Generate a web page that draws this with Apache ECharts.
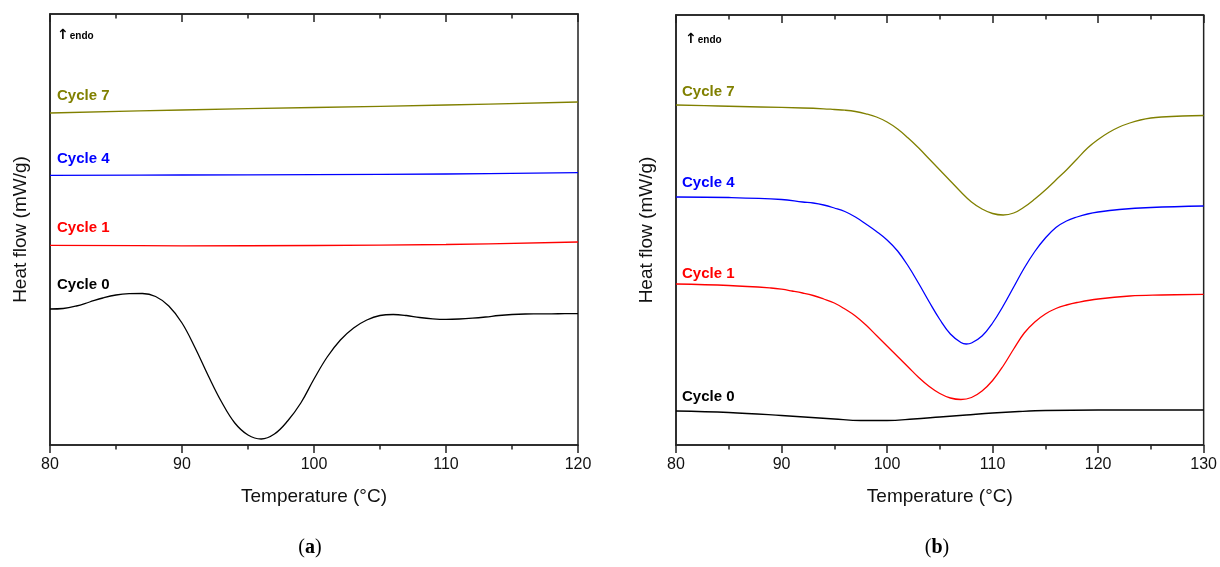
<!DOCTYPE html>
<html>
<head>
<meta charset="utf-8">
<script src="https://cdn.jsdelivr.net/npm/echarts@6/dist/echarts.min.js"></script>
<style>
html, body { margin: 0; padding: 0; background: #fff; }
#chart { width: 1220px; height: 567px; }
</style>
</head>
<body>
<div id="chart"></div>
<script>
// panel (a) - heat flow, arbitrary offset units
var tempA = [80, 90, 100, 110, 120];
var cycle7A = [332, 335, 337.5, 340, 343];
var cycle4A = [269.7, 270, 270.3, 271, 272.3];
var cycle1A = [199.7, 199.2, 199.5, 200.5, 203];
var tempA0 = [80, 81, 82, 83, 84, 85, 86, 87, 88, 89, 90, 91, 92, 93, 94, 95, 96, 97, 98, 99, 100,
  101, 102, 103, 104, 105, 106, 107, 108, 109, 110, 111, 112, 113, 114, 115, 116, 117, 118, 119, 120];
var cycle0A = [136, 136.5, 139, 143, 147, 150, 151.3, 151.5, 148.5, 139, 122, 97, 69, 43, 22, 10, 6, 11, 24, 42, 66,
  88, 105, 117, 125, 129.5, 130.5, 129.5, 127.5, 126.2, 125.7, 126, 126.8, 128, 129.5, 130.5, 131, 131.1, 131.2, 131.3, 131.3];

// panel (b)
var tempB7 = [80, 84, 88, 92, 94, 95, 96, 97, 98, 99, 100, 101, 102, 103, 104, 105, 106, 107, 108, 109, 110, 111, 112,
  113, 114, 115, 116, 117, 118, 119, 120, 121, 122, 123, 124, 125, 126, 128, 130];
var cycle7B = [340, 339, 338, 337, 336.2, 335.5, 334.8, 333.5, 331.2, 328, 323, 316, 307, 297, 286, 275, 264, 253, 243, 236, 231.5, 230, 232,
  238, 246, 255, 265, 275, 286, 297, 305.5, 312.5, 318, 322, 325, 327, 328, 329, 329.5];
var tempB4 = [80, 85, 90, 92, 93, 94, 95, 96, 97, 98, 99, 100, 101, 102, 103, 104, 105, 106, 107, 107.5, 108, 109, 110, 111,
  112, 113, 114, 115, 116, 117, 118, 119, 120, 122, 125, 130];
var cycle4B = [248, 247.5, 245.5, 243, 242, 240, 237, 233.5, 228, 221, 213.5, 205, 194, 179, 161.5, 143, 125.5, 111, 102.5, 101, 102, 109, 122, 139,
  158, 177, 193.5, 207, 217.5, 224, 228, 231, 233, 235.5, 237.5, 239];
var tempB1 = [80, 85, 89, 90, 91, 92, 93, 94, 95, 96, 97, 98, 99, 100, 101, 102, 103, 104, 105, 106, 107, 108, 109,
  110, 111, 112, 113, 114, 115, 116, 117, 118, 120, 123, 126, 130];
var cycle1B = [161, 159.5, 157, 155.8, 154, 152, 149.5, 146, 142, 136, 129, 120, 109.5, 99, 88.5, 78, 67.5, 58.5, 51.5, 47, 45.5, 47.5, 54,
  64.5, 79, 96, 112, 123, 131, 136.5, 140, 142.5, 146, 149, 150, 150.7];
var tempB0 = [80, 85, 90, 95, 97.5, 100, 102.5, 105, 107.5, 110, 112.5, 115, 120, 125, 130];
var cycle0B = [34, 32.5, 29.5, 26, 24.5, 24.5, 26, 28, 30, 32, 33.5, 34.5, 35, 35, 35];

var colors = { c0: '#000000', c1: '#ff0000', c4: '#0000ff', c7: '#808000' };
var sans = '"Liberation Sans", Arial, sans-serif';
var axisColor = '#222';

function pairs(t, v) {
  return t.map(function(x, i) { return [x, v[i]]; });
}

function bottomAxis(grid, max) {
  return {
    gridIndex: grid, type: 'value', min: 80, max: max, interval: 10,
    axisLine: { lineStyle: { color: axisColor, width: 1.5 } },
    axisTick: { length: 8, lineStyle: { color: axisColor, width: 1.5 } },
    minorTick: { show: true, splitNumber: 2, length: 4.5, lineStyle: { color: axisColor, width: 1.5 } },
    splitLine: { show: false },
    axisLabel: { fontSize: 16, color: '#111', margin: 12, fontFamily: sans },
    name: 'Temperature (°C)', nameLocation: 'middle', nameGap: 42,
    nameTextStyle: { fontSize: 19, color: '#111', fontFamily: sans }
  };
}
function topAxis(grid, max) {
  return {
    gridIndex: grid, type: 'value', position: 'top', min: 80, max: max, interval: 10,
    axisLine: { lineStyle: { color: axisColor, width: 1.5 } },
    axisTick: { inside: true, length: 8, lineStyle: { color: axisColor, width: 1.5 } },
    minorTick: { show: true, splitNumber: 2, length: 4.5, lineStyle: { color: axisColor, width: 1.5 } },
    splitLine: { show: false },
    axisLabel: { show: false }
  };
}
function leftAxis(grid, max) {
  return {
    gridIndex: grid, type: 'value', min: 0, max: max,
    axisLine: { show: true, lineStyle: { color: axisColor, width: 1.5 } },
    axisTick: { show: false }, axisLabel: { show: false }, splitLine: { show: false },
    name: 'Heat flow (mW/g)', nameLocation: 'middle', nameGap: 20,
    nameTextStyle: { fontSize: 19, color: '#111', fontFamily: sans }
  };
}
function line(xi, data, color) {
  return {
    type: 'line', xAxisIndex: xi, yAxisIndex: xi === 0 ? 0 : 1, data: data,
    smooth: 0.4, showSymbol: false, symbol: 'none',
    lineStyle: { color: color, width: 1.3 }, silent: true
  };
}
function label(x, y, text, color) {
  return { type: 'text', x: x, y: y, silent: true,
    style: { text: text, fill: color, font: 'bold 15px ' + sans, verticalAlign: 'middle' } };
}
function endo(x, y) {
  return { type: 'text', x: x, y: y, silent: true,
    style: { text: '{a|↑}{e|endo}', verticalAlign: 'middle', fill: '#000',
      rich: { a: { font: 'bold 14px "DejaVu Sans", sans-serif', fill: '#000' },
              e: { font: 'bold 10px ' + sans, fill: '#000', padding: [3, 0, 0, 1] } } } };
}
function panelTag(x, letter) {
  return { type: 'text', x: x, y: 548, silent: true,
    style: { text: '({b|' + letter + '})', align: 'center', verticalAlign: 'middle', fill: '#000',
      font: '20px "Liberation Serif", serif',
      rich: { b: { font: 'bold 20px "Liberation Serif", serif', fill: '#000' } } } };
}

var chart = echarts.init(document.getElementById('chart'));
chart.setOption({
  animation: false,
  backgroundColor: '#fff',
  grid: [
    { left: 50, right: 642, top: 14, bottom: 122, show: true, borderColor: axisColor, borderWidth: 1.5 },
    { left: 676, right: 14, top: 15, bottom: 122, show: true, borderColor: axisColor, borderWidth: 1.5 }
  ],
  xAxis: [bottomAxis(0, 120), bottomAxis(1, 130), topAxis(0, 120), topAxis(1, 130)],
  yAxis: [leftAxis(0, 431), leftAxis(1, 430)],
  series: [
    line(0, pairs(tempA, cycle7A), colors.c7),
    line(0, pairs(tempA, cycle4A), colors.c4),
    line(0, pairs(tempA, cycle1A), colors.c1),
    line(0, pairs(tempA0, cycle0A), colors.c0),
    line(1, pairs(tempB7, cycle7B), colors.c7),
    line(1, pairs(tempB4, cycle4B), colors.c4),
    line(1, pairs(tempB1, cycle1B), colors.c1),
    line(1, pairs(tempB0, cycle0B), colors.c0)
  ],
  graphic: [
    endo(57, 35), endo(685, 39),
    label(57, 96, 'Cycle 7', colors.c7),
    label(57, 159, 'Cycle 4', colors.c4),
    label(57, 228, 'Cycle 1', colors.c1),
    label(57, 285, 'Cycle 0', colors.c0),
    label(682, 92, 'Cycle 7', colors.c7),
    label(682, 183, 'Cycle 4', colors.c4),
    label(682, 274, 'Cycle 1', colors.c1),
    label(682, 397, 'Cycle 0', colors.c0),
    panelTag(310, 'a'), panelTag(937, 'b')
  ]
});
</script>
</body>
</html>
